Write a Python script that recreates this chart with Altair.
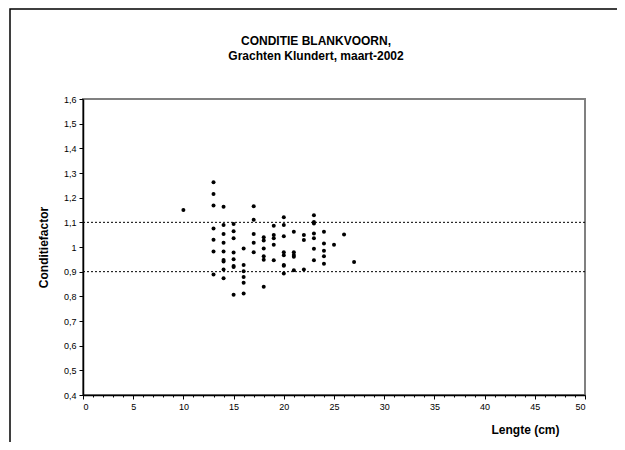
import altair as alt
import pandas as pd

# Data
lengths = (
    [10]
    + [13] * 7
    + [14] * 9
    + [15] * 8
    + [16] * 6
    + [17] * 5
    + [18] * 6
    + [19] * 5
    + [20] * 8
    + [21] * 5
    + [22] * 3
    + [23] * 7
    + [24] * 5
    + [25, 26, 27]
)
factors = (
    [1.150]
    + [1.262, 1.215, 1.168, 1.075, 1.029, 0.982, 0.889]
    + [1.163, 1.089, 1.053, 1.017, 0.982, 0.947, 0.941, 0.909, 0.873]
    + [1.093, 1.064, 1.035, 0.978, 0.950, 0.923, 0.919, 0.806]
    + [0.994, 0.927, 0.902, 0.878, 0.855, 0.811]
    + [1.165, 1.110, 1.053, 1.017, 0.979]
    + [1.040, 1.026, 0.994, 0.963, 0.948, 0.839]
    + [1.086, 1.049, 1.035, 1.009, 0.946]
    + [1.121, 1.089, 1.044, 0.979, 0.967, 0.927, 0.924, 0.893]
    + [1.062, 0.979, 0.968, 0.960, 0.906]
    + [1.049, 1.028, 0.909]
    + [1.129, 1.101, 1.095, 1.055, 1.035, 0.993, 0.946]
    + [1.062, 1.014, 0.985, 0.962, 0.932]
    + [1.009, 1.051, 0.939]
)
ref_levels = [0.9, 1.1]
title_lines = ["CONDITIE BLANKVOORN,", "Grachten Klundert, maart-2002"]
x_ticks = list(range(0, 51))
y_ticks = [0.4, 0.5, 0.6, 0.7, 0.8, 0.9, 1.0, 1.1, 1.2, 1.3, 1.4, 1.5, 1.6]

df = pd.DataFrame({"Lengte": lengths, "Conditiefactor": factors})
ref_df = pd.DataFrame({"level": ref_levels})

W, H = 502, 296
FONT = "Liberation Sans, Arial, sans-serif"

x_scale = alt.Scale(domain=[0, 50], nice=False, zero=False)
y_scale = alt.Scale(domain=[0.4, 1.6], nice=False, zero=False)

x_axis = alt.Axis(
    title="Lengte (cm)",
    values=x_ticks,
    labelExpr="datum.value % 5 === 0 ? datum.label : ''",
    labelOverlap=False,
    labelFontSize=9,
    labelColor="black",
    labelPadding=3,
    tickSize={"condition": {"test": "datum.value % 5 === 0", "value": 4}, "value": 2},
    tickColor="black",
    domainColor="black",
    domainWidth=1.5,
    grid=False,
    titleFontSize=12,
    titleFontWeight="bold",
    titleColor="black",
    titleAlign="right",
    titleBaseline="middle",
    titleX=476,
    titleY=34,
)
y_axis = alt.Axis(
    title="Conditiefactor",
    values=y_ticks,
    labelExpr="replace(format(datum.value, '.1~f'), '.', ',')",
    labelOverlap=False,
    labelFontSize=9,
    labelColor="black",
    labelPadding=3,
    tickSize=4,
    tickColor="black",
    domainColor="black",
    domainWidth=1.5,
    grid=False,
    titleFontSize=12,
    titleFontWeight="bold",
    titleColor="black",
    titleAngle=-90,
    titleAlign="center",
    titleBaseline="middle",
    titleX=-40,
    titleY=H / 2,
)

points = alt.Chart(df).mark_circle(size=16, color="black", opacity=1).encode(
    x=alt.X("Lengte:Q", scale=x_scale, axis=x_axis),
    y=alt.Y("Conditiefactor:Q", scale=y_scale, axis=y_axis),
)

rules = alt.Chart(ref_df).mark_rule(
    color="black", strokeDash=[2, 2], strokeWidth=1
).encode(y=alt.Y("level:Q", scale=y_scale, axis=y_axis))

frame = alt.Chart(ref_df.head(1)).mark_rect(
    fillOpacity=0, stroke="black", strokeWidth=1.5
).encode(
    x=alt.value(-73), x2=alt.value(539), y=alt.value(-90), y2=alt.value(370)
)

title = alt.Chart(ref_df.head(1)).mark_text(
    text=title_lines,
    font=FONT,
    fontSize=12,
    fontWeight="bold",
    color="black",
    align="center",
    baseline="top",
    lineHeight=14.5,
).encode(x=alt.value(233), y=alt.value(-63))

chart = (
    alt.layer(points, rules, frame, title)
    .properties(
        width=W,
        height=H,
        autosize=alt.AutoSizeParams(type="none"),
        padding={"left": 75, "top": 91, "right": 32, "bottom": 47},
    )
    .configure(font=FONT, background="white")
    .configure_view(stroke="#808080", strokeWidth=2)
)

chart.save("out.html", embed_options={"renderer": "svg", "actions": False})
